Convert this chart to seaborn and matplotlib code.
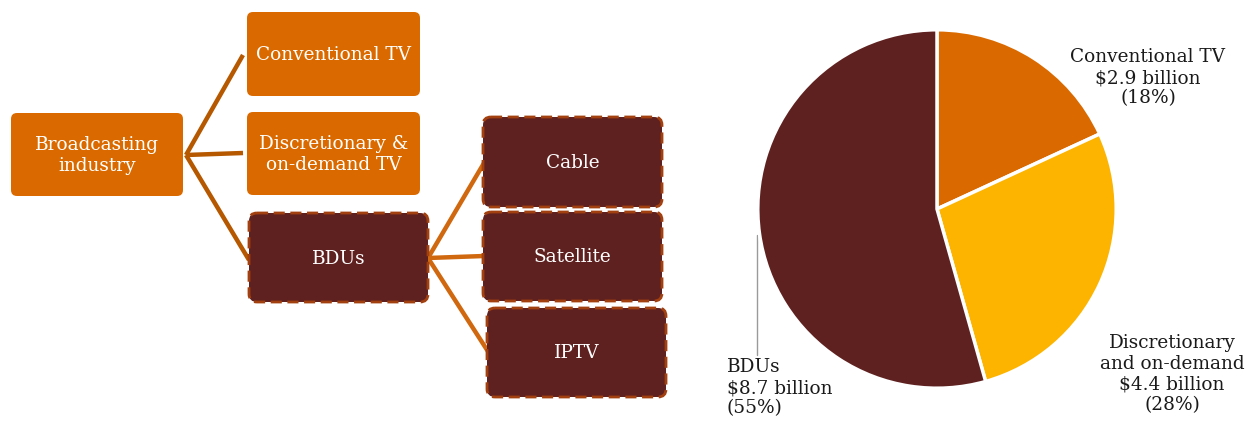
import matplotlib
matplotlib.use("Agg")
import matplotlib.pyplot as plt
from matplotlib.patches import FancyBboxPatch
import seaborn as sns

# ---- data ----
segments = ["Conventional TV", "Discretionary and on-demand", "BDUs"]
revenues = [2.9, 4.4, 8.7]          # $ billion
shares = [18, 28, 55]               # percent as published
pie_labels = ["Conventional TV\n$2.9 billion\n(18%)",
              "Discretionary\nand on-demand\n$4.4 billion\n(28%)",
              "BDUs\n$8.7 billion\n(55%)"]
tree_root = "Broadcasting\nindustry"
tree_level1 = ["Conventional TV", "Discretionary &\non-demand TV", "BDUs"]
tree_bdu_children = ["Cable", "Satellite", "IPTV"]

sns.set_theme(style="white")
FONT = ["DejaVu Serif"]
plt.rcParams["font.family"] = FONT

ORANGE = "#DA6A00"
YELLOW = "#FDB400"
DARK = "#5F2120"
pal = sns.color_palette([ORANGE, YELLOW, DARK])

fig = plt.figure(figsize=(12.5, 4.23), dpi=100)
ax = fig.add_axes([0, 0, 1, 1])
ax.set_xlim(0, 1250)
ax.set_ylim(423, 0)
ax.set_axis_off()

FS = 13.3
LS = 1.18

def box(x0, y0, x1, y1, text, dark=False):
    if dark:
        p = FancyBboxPatch((x0, y0), x1 - x0, y1 - y0,
                           boxstyle="round,pad=0,rounding_size=8",
                           facecolor=DARK, edgecolor="#A3400F",
                           linewidth=2.0, linestyle=(0, (4, 2)), zorder=3)
    else:
        p = FancyBboxPatch((x0, y0), x1 - x0, y1 - y0,
                           boxstyle="round,pad=0,rounding_size=6",
                           facecolor=ORANGE, edgecolor="none", zorder=3)
    ax.add_patch(p)
    ax.text((x0 + x1) / 2, (y0 + y1) / 2 + 1, text, color="white", fontsize=FS,
            ha="center", va="center", linespacing=LS, zorder=4)

# connectors
LC1 = "#B55800"
LC2 = "#D0680F"
for (xe, ye) in [(243, 55), (243, 153), (249, 260)]:
    ax.plot([186, xe], [155, ye], color=LC1, lw=3.2, solid_capstyle="butt", zorder=2)
for (xe, ye) in [(484, 163), (484, 256), (489, 353)]:
    ax.plot([428, xe], [258, ye], color=LC2, lw=3.2, solid_capstyle="butt", zorder=2)

box(11, 113, 183, 196, tree_root)
box(247, 12, 420, 96, tree_level1[0])
box(247, 112, 420, 195, tree_level1[1])
box(249, 213, 428, 302, tree_level1[2], dark=True)
box(483, 117, 662, 207, tree_bdu_children[0], dark=True)
box(483, 212, 662, 301, tree_bdu_children[1], dark=True)
box(487, 308, 666, 397, tree_bdu_children[2], dark=True)

# pie
cx, cy, r = 937, 209, 181
pax = fig.add_axes([(cx - r) / 1250, (423 - cy - r) / 423, 2 * r / 1250, 2 * r / 423])
pax.pie(revenues, colors=pal, startangle=90, counterclock=False,
        wedgeprops=dict(edgecolor="white", linewidth=2.5))
pax.set_xlim(-1.01, 1.01)
pax.set_ylim(-1.01, 1.01)
pax.set_axis_off()

# pie labels (main axes pixel coordinates)
TC = "#1a1a1a"
ax.text(1148, 78, pie_labels[0], fontsize=FS, color=TC, ha="center",
        va="center", linespacing=LS, zorder=5)
ax.text(1172, 374, pie_labels[1], fontsize=FS, color=TC, ha="center",
        va="center", linespacing=LS, zorder=5)
ax.text(727, 388, pie_labels[2], fontsize=FS, color=TC, ha="left",
        va="center", linespacing=LS, zorder=5)
ax.plot([757, 757], [235, 355], color="#9a9a9a", lw=1.0, zorder=5)

fig.savefig("out.png", dpi=100)
